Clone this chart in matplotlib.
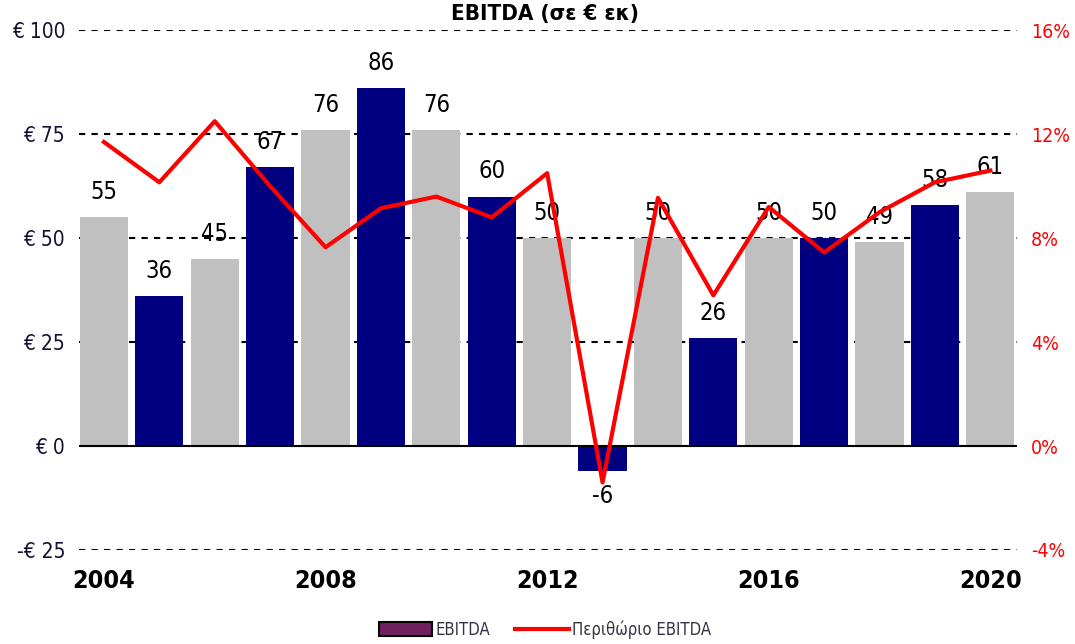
import matplotlib
matplotlib.use("Agg")
import matplotlib.pyplot as plt
from matplotlib.patches import Patch
from matplotlib.lines import Line2D

plt.rcParams['font.family'] = ['DejaVu Sans']
plt.rcParams['font.stretch'] = 'condensed'

years = list(range(2004, 2021))
ebitda = [55, 36, 45, 67, 76, 86, 76, 60, 50, -6, 50, 26, 50, 50, 49, 58, 61]
bar_colors = ['#C0C0C0', '#000080', '#C0C0C0', '#000080', '#C0C0C0', '#000080',
              '#C0C0C0', '#000080', '#C0C0C0', '#000080', '#C0C0C0', '#000080',
              '#C0C0C0', '#000080', '#C0C0C0', '#000080', '#C0C0C0']
margin = [11.7, 10.15, 12.5, 10.0, 7.65, 9.15, 9.6, 8.8, 10.5, -1.4, 9.55,
          5.8, 9.2, 7.45, 9.0, 10.15, 10.6]
left_ticks = [-25, 0, 25, 50, 75, 100]
left_labels = ['-€ 25', '€ 0', '€ 25', '€ 50', '€ 75', '€ 100']
right_ticks = [-4, 0, 4, 8, 12, 16]
right_labels = ['-4%', '0%', '4%', '8%', '12%', '16%']

fig = plt.figure(figsize=(10.75, 6.44), dpi=100)
ax = fig.add_axes([0.0735, 0.146, 0.8725, 0.807])

ax.bar(years, ebitda, width=0.87, color=bar_colors, zorder=2)
for y, v in zip(years, ebitda):
    if v >= 0:
        ax.text(y, v + 3.2, str(v), ha='center', va='bottom', fontsize=17, color='black', zorder=5)
    else:
        ax.text(y, v - 3.2, str(v), ha='center', va='top', fontsize=17, color='black', zorder=5)

ax.set_xlim(2003.55, 2020.48)
ax.set_ylim(-25, 100)
ax.set_yticks(left_ticks)
ax.set_yticklabels(left_labels, fontsize=15, color='#111133')
ax.set_xticks([2004, 2008, 2012, 2016, 2020])
ax.set_xticklabels(['2004', '2008', '2012', '2016', '2020'], fontsize=18, fontweight='bold')
ax.tick_params(axis='y', length=0, pad=10)
ax.tick_params(axis='x', length=0, pad=14)
for t in left_ticks:
    if t != 0:
        ax.axhline(t, color='black', lw=1.5, linestyle=(0, (3, 3)), zorder=1)
ax.axhline(0, color='black', lw=1.5, zorder=3)
for s in ax.spines.values():
    s.set_visible(False)

ax2 = ax.twinx()
ax2.plot(years, margin, color='#FF0000', lw=3, zorder=4)
ax2.set_ylim(-4, 16)
ax2.set_yticks(right_ticks)
ax2.set_yticklabels(right_labels, fontsize=14, color='#FF0000')
ax2.tick_params(axis='y', length=0, pad=10)
for s in ax2.spines.values():
    s.set_visible(False)

fig.text(0.507, 1 - 20 / 644, 'EBITDA (σε € εκ)', ha='center', va='baseline',
         fontsize=16, fontweight='bold')

handles = [Patch(facecolor='#70205F', edgecolor='black', linewidth=1.5),
           Line2D([0], [0], color='#FF0000', lw=3)]
fig.legend(handles, ['EBITDA', 'Περιθώριο EBITDA'], loc='center', ncol=2,
           bbox_to_anchor=(0.507, 0.022), frameon=False, fontsize=12,
           handlelength=3.2, handleheight=0.9, handletextpad=0.2, columnspacing=1.5,
           labelcolor='#333344')

fig.savefig('out.png', dpi=100)
